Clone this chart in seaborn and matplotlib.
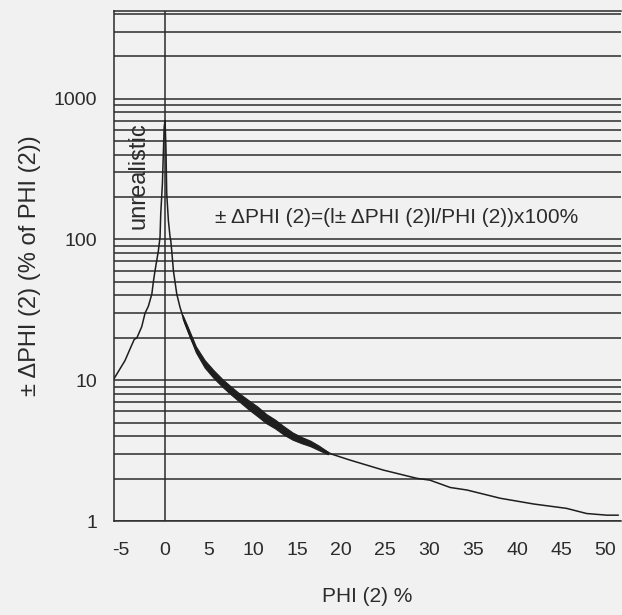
import matplotlib
matplotlib.use("Agg")
import matplotlib.pyplot as plt
import matplotlib.ticker as mticker
import seaborn as sns
import numpy as np

# --- values ---
phi = [-5.8, -5.7, -4.55, -3.8, -3.5, -3.2, -2.65, -2.27, -1.9, -1.5, -1.33, -1.14,
       -0.76, -0.57, -0.49, -0.3, -0.1, 0.0, 0.1, 0.19, 0.38, 0.57, 0.65, 0.76, 0.95,
       1.33, 1.7, 2.27, 3.03, 3.98, 5.5, 7.0, 8.9, 9.66, 10.8, 11.9, 12.7, 14.2, 16.5,
       18.9, 21.0, 24.8, 28.6, 30.1, 32.4, 34.3, 38.1, 41.9, 45.6, 47.9, 50.2, 51.5]
dphi = [10.3, 10.5, 13.8, 17.7, 19.5, 20.0, 24.0, 30.0, 33.5, 41.0, 50.0, 60.0,
        83.0, 104.0, 152.0, 250.0, 630.0, 700.0, 450.0, 212.0, 136.0, 104.0, 98.0, 83.0, 60.0,
        41.0, 33.0, 25.3, 19.2, 14.6, 11.1, 9.0, 7.2, 6.5, 5.8, 5.06, 4.8, 4.07, 3.56,
        2.99, 2.71, 2.30, 2.01, 1.95, 1.73, 1.66, 1.45, 1.32, 1.23, 1.13, 1.10, 1.10]

# scatter band of the noisy part
band_phi = [2.0, 2.5, 3.5, 4.5, 5.5, 6.5, 7.5, 8.5, 9.5, 10.5, 11.5, 12.5, 13.5,
            14.5, 15.5, 16.5, 17.5, 18.5]
band_hi = [29.0, 24.6, 17.4, 13.9, 11.8, 10.2, 9.0, 8.0, 7.2, 6.5, 5.75, 5.25, 4.7,
           4.25, 3.95, 3.72, 3.42, 3.1]
band_lo = [27.5, 22.8, 15.8, 12.3, 10.4, 9.0, 7.9, 7.0, 6.2, 5.55, 4.95, 4.55, 4.1,
           3.78, 3.57, 3.4, 3.18, 2.98]

x_ticks = [-5, 0, 5, 10, 15, 20, 25, 30, 35, 40, 45, 50]
y_ticks = [1, 10, 100, 1000]

sns.set_style("white")
plt.rcParams['font.family'] = ['Liberation Sans', 'DejaVu Sans']
plt.rcParams['axes.unicode_minus'] = False
ink = '#2b2b2b'

fig = plt.figure(figsize=(6.22, 6.15), dpi=100, facecolor='#f1f1f1')
ax = fig.add_axes([114 / 622, 1 - 521 / 615, 507 / 622, 510 / 615])
ax.set_facecolor('#f1f1f1')

ax.set_yscale('log')
ax.set_xlim(-5.8, 51.8)
ax.set_ylim(1, 4200)

# horizontal grid at every decade subdivision
ax.yaxis.set_minor_locator(mticker.LogLocator(base=10, subs=np.arange(2, 10)))
ax.yaxis.set_minor_formatter(mticker.NullFormatter())
ax.grid(True, axis='y', which='both', color=ink, linewidth=1.1)
ax.grid(False, axis='x')
ax.axvline(0, color=ink, linewidth=1.1, zorder=2)

ax.fill_between(band_phi, band_lo, band_hi, color='#1e1e1e', linewidth=0.8, zorder=3)
sns.lineplot(x=phi, y=dphi, ax=ax, color='#1e1e1e', linewidth=1.1, sort=False,
             estimator=None, zorder=4)

ax.set_xticks(x_ticks)
ax.set_yticks(y_ticks)
ax.yaxis.set_major_formatter(mticker.FuncFormatter(lambda v, p: f"{v:g}"))
ax.tick_params(axis='both', which='major', direction='out', length=7, width=1.1,
               color=ink, labelsize=14, labelcolor=ink)
ax.tick_params(axis='x', pad=8)
ax.tick_params(axis='y', pad=5)
ax.tick_params(axis='y', which='minor', direction='inout', length=5, width=1.0, color=ink)

for side in ['left', 'bottom', 'top']:
    ax.spines[side].set_color(ink)
    ax.spines[side].set_linewidth(1.1)
ax.spines['right'].set_visible(False)

ax.set_xlabel('PHI (2) %', fontsize=15, color=ink, labelpad=20)
ax.set_ylabel('± ΔPHI (2) (% of PHI (2))', fontsize=17, color=ink, labelpad=9)

ax.text(-3.07, 285, 'unrealistic', rotation=90, fontsize=17, color=ink,
        ha='center', va='center', zorder=5)
ax.text(26.3, 143, '± ΔPHI (2)=(l± ΔPHI (2)l/PHI (2))x100%', fontsize=15, color=ink,
        ha='center', va='center', zorder=5)

fig.savefig('out.png', dpi=100, facecolor=fig.get_facecolor())
